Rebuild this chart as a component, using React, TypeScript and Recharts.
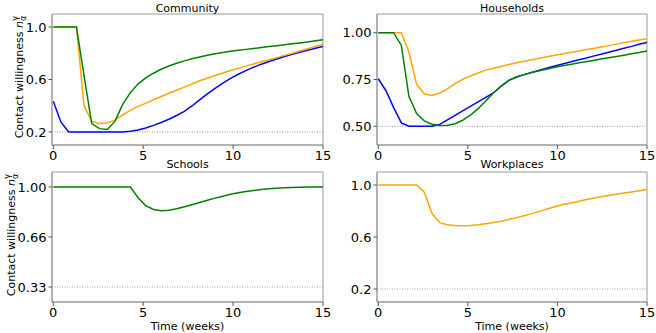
import { Line, LineChart, ReferenceArea, ReferenceLine, XAxis, YAxis } from "recharts";

// time grid (weeks), one point every 3 days
const weeks = [
  0, 0.43, 0.86, 1.29, 1.71, 2.14, 2.57, 3, 3.43, 3.86, 4.29, 4.71, 5.14, 5.57, 6, 6.43, 6.86, 7.29,
  7.71, 8.14, 8.57, 9, 9.43, 9.86, 10.29, 10.71, 11.14, 11.57, 12, 12.43, 12.86, 13.29, 13.71, 14.14,
  14.57, 15,
];

const communityBlue = [
  0.434, 0.274, 0.2, 0.2, 0.2, 0.2, 0.2, 0.2, 0.2, 0.2, 0.205, 0.215, 0.23, 0.25, 0.272, 0.297, 0.325,
  0.357, 0.398, 0.445, 0.49, 0.532, 0.572, 0.608, 0.64, 0.668, 0.694, 0.717, 0.738, 0.757, 0.775, 0.792,
  0.808, 0.823, 0.838, 0.852,
];
const communityOrange = [
  1, 1, 1, 1, 0.4, 0.28, 0.265, 0.268, 0.29, 0.33, 0.365, 0.395, 0.418, 0.445, 0.47, 0.495, 0.518,
  0.542, 0.566, 0.59, 0.61, 0.63, 0.649, 0.668, 0.685, 0.702, 0.719, 0.735, 0.751, 0.767, 0.784, 0.801,
  0.818, 0.835, 0.852, 0.869,
];
const communityGreen = [
  1, 1, 1, 1, 0.63, 0.264, 0.225, 0.218, 0.28, 0.41, 0.5, 0.565, 0.612, 0.648, 0.678, 0.703, 0.724,
  0.742, 0.758, 0.772, 0.785, 0.796, 0.806, 0.815, 0.823, 0.83, 0.837, 0.844, 0.851, 0.858, 0.865,
  0.872, 0.879, 0.887, 0.895, 0.904,
];

const householdBlue = [
  0.754, 0.69, 0.6, 0.518, 0.5, 0.5, 0.5, 0.5, 0.51, 0.534, 0.558, 0.582, 0.606, 0.63, 0.654, 0.678,
  0.715, 0.745, 0.763, 0.776, 0.788, 0.8, 0.811, 0.822, 0.833, 0.843, 0.854, 0.864, 0.875, 0.885, 0.896,
  0.906, 0.917, 0.927, 0.938, 0.948,
];
const householdOrange = [
  1, 1, 1, 1, 0.897, 0.724, 0.674, 0.665, 0.678, 0.7, 0.728, 0.751, 0.769, 0.785, 0.8, 0.81, 0.82, 0.83,
  0.839, 0.848, 0.856, 0.864, 0.872, 0.879, 0.886, 0.894, 0.901, 0.909, 0.916, 0.924, 0.931, 0.939,
  0.946, 0.954, 0.961, 0.968,
];
const householdGreen = [
  1, 1, 1, 0.932, 0.66, 0.568, 0.529, 0.511, 0.504, 0.505, 0.514, 0.532, 0.559, 0.594, 0.635, 0.678,
  0.715, 0.745, 0.763, 0.776, 0.787, 0.797, 0.806, 0.815, 0.823, 0.83, 0.838, 0.845, 0.852, 0.859,
  0.866, 0.873, 0.88, 0.887, 0.894, 0.902,
];

const schoolGreen = [
  1, 1, 1, 1, 1, 1, 1, 1, 1, 1, 1, 0.93, 0.875, 0.85, 0.842, 0.845, 0.855, 0.868, 0.882, 0.897, 0.912,
  0.926, 0.939, 0.951, 0.961, 0.97, 0.977, 0.983, 0.988, 0.992, 0.995, 0.997, 0.999, 1, 1, 1,
];

const workplaceOrange = [
  1, 1, 1, 1, 1, 1, 0.945, 0.78, 0.71, 0.695, 0.689, 0.687, 0.689, 0.694, 0.702, 0.711, 0.722, 0.735,
  0.749, 0.764, 0.78, 0.797, 0.815, 0.833, 0.85, 0.86, 0.873, 0.886, 0.898, 0.909, 0.919, 0.929, 0.938,
  0.947, 0.956, 0.965,
];

const xTicks = [0, 5, 10, 15];
const communityTicks = [0.2, 0.6, 1.0];
const communityLabels = ["0.2", "0.6", "1.0"];
const householdTicks = [0.5, 0.75, 1.0];
const householdLabels = ["0.50", "0.75", "1.00"];
const schoolTicks = [0.3333, 0.6667, 1.0];
const schoolLabels = ["0.33", "0.66", "1.00"];
const workplaceTicks = [0.2, 0.6, 1.0];
const workplaceLabels = ["0.2", "0.6", "1.0"];

const BLUE = "#0000ff";
const ORANGE = "#ffa500";
const GREEN = "#008000";
const FRAME = "#999999";
const FONT = "'DejaVu Sans', sans-serif";
const X_DOMAIN: [number, number] = [-0.07, 15];

type Series = { key: string; values: number[]; color: string };

function rowsFrom(series: Series[]) {
  return weeks.map((t, i) => {
    const row: Record<string, number> = { t };
    series.forEach((s) => (row[s.key] = s.values[i]));
    return row;
  });
}

type PanelProps = {
  left: number;
  top: number;
  width: number;
  height: number;
  marginTop: number;
  marginRight: number;
  yAxisWidth: number;
  xAxisHeight: number;
  yDomain: [number, number];
  yTicks: number[];
  yLabels: string[];
  floor: number;
  series: Series[];
};

function Panel(p: PanelProps) {
  const data = rowsFrom(p.series);
  return (
    <div style={{ position: "absolute", left: p.left, top: p.top }}>
      <LineChart
        width={p.width}
        height={p.height}
        data={data}
        margin={{ top: p.marginTop, right: p.marginRight, bottom: 0, left: 0 }}
      >
        <XAxis
          dataKey="t"
          type="number"
          domain={X_DOMAIN}
          ticks={xTicks}
          allowDataOverflow
          height={p.xAxisHeight}
          tickSize={4}
          tickMargin={2}
          stroke={FRAME}
          tickLine={{ stroke: "#555" }}
          tick={{ fill: "#000", fontSize: 13, fontFamily: FONT }}
        />
        <YAxis
          type="number"
          domain={p.yDomain}
          ticks={p.yTicks}
          allowDataOverflow
          width={p.yAxisWidth}
          tickSize={3.5}
          tickMargin={2}
          stroke={FRAME}
          tickLine={{ stroke: "#555" }}
          tick={{ fill: "#000", fontSize: 13, fontFamily: FONT }}
          tickFormatter={(v: number) => p.yLabels[p.yTicks.indexOf(v)] ?? String(v)}
        />
        <ReferenceArea
          x1={X_DOMAIN[0]}
          x2={X_DOMAIN[1]}
          y1={p.yDomain[0]}
          y2={p.yDomain[1]}
          fill="none"
          fillOpacity={0}
          stroke={FRAME}
          strokeWidth={1}
          ifOverflow="visible"
        />
        <ReferenceLine y={p.floor} stroke="#999" strokeWidth={1} strokeDasharray="1 1.5" />
        {p.series.map((s) => (
          <Line
            key={s.key}
            dataKey={s.key}
            type="linear"
            stroke={s.color}
            strokeWidth={1.5}
            dot={false}
            isAnimationActive={false}
          />
        ))}
      </LineChart>
    </div>
  );
}

function YLabel({ x, y }: { x: number; y: number }) {
  return (
    <text transform={`translate(${x},${y}) rotate(-90)`} textAnchor="middle">
      Contact willingness{" "}
      <tspan fontStyle="italic">n</tspan>
      <tspan fontSize={8} dy={2.5}>α</tspan>
      <tspan fontSize={8} dx={-5} dy={-8}>γ</tspan>
    </text>
  );
}

export default function App() {
  return (
    <div style={{ position: "absolute", left: 0, top: 0, width: 656, height: 333, background: "#fff" }}>
      <Panel
        left={0}
        top={0}
        width={345}
        height={165}
        marginTop={14}
        marginRight={22}
        yAxisWidth={52}
        xAxisHeight={20}
        yDomain={[0.1, 1.1]}
        yTicks={communityTicks}
        yLabels={communityLabels}
        floor={0.2}
        series={[
          { key: "blue", values: communityBlue, color: BLUE },
          { key: "orange", values: communityOrange, color: ORANGE },
          { key: "green", values: communityGreen, color: GREEN },
        ]}
      />
      <Panel
        left={328}
        top={0}
        width={328}
        height={165}
        marginTop={14}
        marginRight={9}
        yAxisWidth={49}
        xAxisHeight={20}
        yDomain={[0.4, 1.1]}
        yTicks={householdTicks}
        yLabels={householdLabels}
        floor={0.5}
        series={[
          { key: "blue", values: householdBlue, color: BLUE },
          { key: "orange", values: householdOrange, color: ORANGE },
          { key: "green", values: householdGreen, color: GREEN },
        ]}
      />
      <Panel
        left={0}
        top={165}
        width={345}
        height={168}
        marginTop={7}
        marginRight={22}
        yAxisWidth={52}
        xAxisHeight={31}
        yDomain={[0.2333, 1.1]}
        yTicks={schoolTicks}
        yLabels={schoolLabels}
        floor={0.3333}
        series={[{ key: "green", values: schoolGreen, color: GREEN }]}
      />
      <Panel
        left={328}
        top={165}
        width={328}
        height={168}
        marginTop={7}
        marginRight={9}
        yAxisWidth={49}
        xAxisHeight={31}
        yDomain={[0.1, 1.1]}
        yTicks={workplaceTicks}
        yLabels={workplaceLabels}
        floor={0.2}
        series={[{ key: "orange", values: workplaceOrange, color: ORANGE }]}
      />
      <svg
        width={656}
        height={333}
        style={{ position: "absolute", left: 0, top: 0, pointerEvents: "none" }}
        fontFamily={FONT}
        fontSize={11}
        fill="#000"
      >
        <text x={187.5} y={11.5} textAnchor="middle">Community</text>
        <text x={512} y={11.5} textAnchor="middle">Households</text>
        <text x={187.5} y={168} textAnchor="middle">Schools</text>
        <text x={512} y={168} textAnchor="middle">Workplaces</text>
        <text x={187.5} y={330} textAnchor="middle">Time (weeks)</text>
        <text x={512} y={330} textAnchor="middle">Time (weeks)</text>
        <YLabel x={23} y={77} />
        <YLabel x={15} y={235} />
      </svg>
    </div>
  );
}
